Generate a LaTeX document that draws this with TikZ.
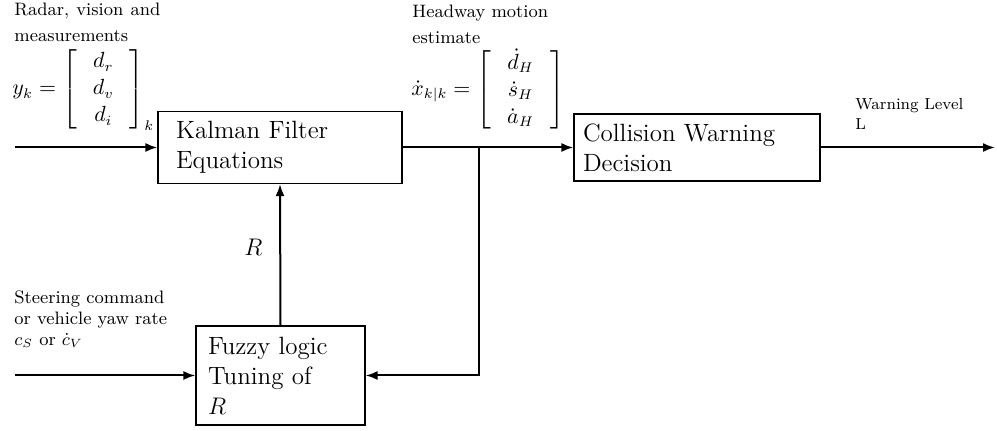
\documentclass[tikz,border=0pt]{standalone}
\usepackage{amsmath}
\usetikzlibrary{arrows.meta}
\begin{document}
\begin{tikzpicture}[x=0.5pt,y=-0.5pt,
  blk/.style={draw, line width=0.6pt, align=left, inner ysep=0pt, font=\fontsize{12.5}{15}\selectfont},
  conn/.style={line width=1pt, -{Latex[length=6pt,width=4.5pt]}},
  lbl/.style={inner sep=0pt, anchor=north west, font=\fontsize{9}{13}\selectfont, align=left},
  mat/.style={inner sep=0pt, anchor=west, font=\fontsize{10.5}{13.5}\selectfont}]
\useasboundingbox (0,0) rectangle (997,431);
% blocks
\node[blk, minimum width=122pt, minimum height=36pt, text width=104pt, inner xsep=9pt] (kf) at (280,147.5) {Kalman Filter\\Equations};
\node[blk, minimum width=123pt, minimum height=33.5pt, text width=114pt, inner xsep=4.5pt] (cw) at (697,147.5) {Collision Warning\\Decision};
\node[blk, minimum width=84.5pt, minimum height=49.5pt, text width=72.5pt, inner xsep=6pt] (fz) at (280.5,375.5) {Fuzzy logic\\Tuning of\\$R$};
% coordinates
\coordinate (in1) at (15,147.5);
\coordinate (in2) at (15,375.5);
\coordinate (br) at (479,147.5);
\coordinate (out) at (995,147.5);
% connectors
\draw[conn] (in1) -- (kf.west);
\draw[conn] (kf.east) -- (cw.west);
\draw[conn] (cw.east) -- (out);
\draw[conn] (in2) -- (fz.west);
\draw[conn] (br) |- (fz.east);
\draw[conn] (fz.north) -- (kf.south) node[pos=0.55, left=5pt, font=\fontsize{12.5}{15}\selectfont] (rl) {$R$};
% labels
\node[lbl] (radar) at (14,3) {\makebox[73pt][l]{Radar,\hfill vision\hfill and}\\measurements};
\node[mat] (yk) at (12,90) {$y_k=\left[\;\begin{array}{c} d_r\\ d_v\\ d_i\end{array}\;\right]_k$};
\node[lbl] (head) at (412,5) {Headway motion\\estimate};
\node[mat] (xk) at (411,90) {$\dot{x}_{k|k}=\left[\;\begin{array}{c} \dot{d}_H\\ \dot{s}_H\\ \dot{a}_H\end{array}\;\right]$};
\node[inner sep=0pt, anchor=north west, font=\fontsize{8}{10}\selectfont, align=left] (wl) at (855,98) {Warning Level\\L};
\node[inner sep=0pt, anchor=north west, font=\fontsize{9}{10.5}\selectfont, align=left] (st) at (14,290) {Steering command\\or vehicle yaw rate\\$c_S$ or $\dot{c}_V$};
\end{tikzpicture}
\end{document}
